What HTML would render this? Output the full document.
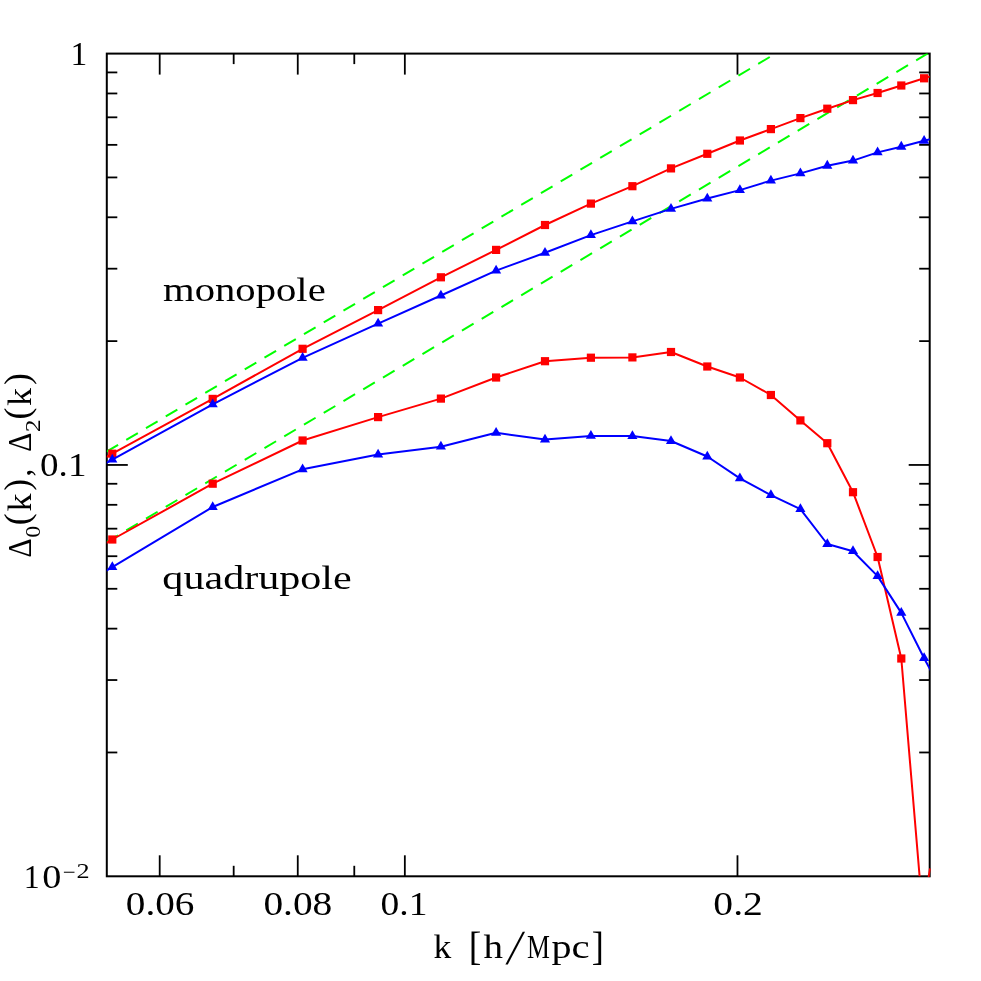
<!DOCTYPE html>
<html lang="en">
<head>
<meta charset="utf-8">
<title>Monopole and quadrupole power</title>
<style>
html,body{margin:0;padding:0;background:#ffffff;}
body{width:981px;height:981px;overflow:hidden;font-family:"Liberation Serif",serif;}
svg{display:block;will-change:transform;}
</style>
</head>
<body>
<svg width="981" height="981" viewBox="0 0 981 981">
<rect x="0" y="0" width="981" height="981" fill="#ffffff"/>
<defs><clipPath id="plotclip"><rect x="106.8" y="53.6" width="822.9" height="822.7"/></clipPath></defs>
<g stroke="#000000" stroke-width="2" fill="none" stroke-linecap="butt">
<rect x="106.8" y="53.6" width="822.9" height="822.7"/>
</g>
<g stroke="#000000" stroke-width="1.8" fill="none">
<line x1="159.7" y1="876.3" x2="159.7" y2="855.3"/>
<line x1="159.7" y1="53.6" x2="159.7" y2="74.6"/>
<line x1="233.68" y1="876.3" x2="233.68" y2="865.8"/>
<line x1="233.68" y1="53.6" x2="233.68" y2="64.1"/>
<line x1="297.76" y1="876.3" x2="297.76" y2="855.3"/>
<line x1="297.76" y1="53.6" x2="297.76" y2="74.6"/>
<line x1="354.28" y1="876.3" x2="354.28" y2="865.8"/>
<line x1="354.28" y1="53.6" x2="354.28" y2="64.1"/>
<line x1="404.84" y1="876.3" x2="404.84" y2="855.3"/>
<line x1="404.84" y1="53.6" x2="404.84" y2="74.6"/>
<line x1="737.48" y1="876.3" x2="737.48" y2="855.3"/>
<line x1="737.48" y1="53.6" x2="737.48" y2="74.6"/>
<line x1="106.8" y1="72.42" x2="117.3" y2="72.42"/>
<line x1="929.7" y1="72.42" x2="919.2" y2="72.42"/>
<line x1="106.8" y1="93.46" x2="117.3" y2="93.46"/>
<line x1="929.7" y1="93.46" x2="919.2" y2="93.46"/>
<line x1="106.8" y1="117.32" x2="117.3" y2="117.32"/>
<line x1="929.7" y1="117.32" x2="919.2" y2="117.32"/>
<line x1="106.8" y1="144.86" x2="117.3" y2="144.86"/>
<line x1="929.7" y1="144.86" x2="919.2" y2="144.86"/>
<line x1="106.8" y1="177.43" x2="117.3" y2="177.43"/>
<line x1="929.7" y1="177.43" x2="919.2" y2="177.43"/>
<line x1="106.8" y1="217.29" x2="117.3" y2="217.29"/>
<line x1="929.7" y1="217.29" x2="919.2" y2="217.29"/>
<line x1="106.8" y1="268.69" x2="117.3" y2="268.69"/>
<line x1="929.7" y1="268.69" x2="919.2" y2="268.69"/>
<line x1="106.8" y1="341.12" x2="117.3" y2="341.12"/>
<line x1="929.7" y1="341.12" x2="919.2" y2="341.12"/>
<line x1="106.8" y1="464.95" x2="127.8" y2="464.95"/>
<line x1="929.7" y1="464.95" x2="908.7" y2="464.95"/>
<line x1="106.8" y1="483.77" x2="117.3" y2="483.77"/>
<line x1="929.7" y1="483.77" x2="919.2" y2="483.77"/>
<line x1="106.8" y1="504.81" x2="117.3" y2="504.81"/>
<line x1="929.7" y1="504.81" x2="919.2" y2="504.81"/>
<line x1="106.8" y1="528.67" x2="117.3" y2="528.67"/>
<line x1="929.7" y1="528.67" x2="919.2" y2="528.67"/>
<line x1="106.8" y1="556.21" x2="117.3" y2="556.21"/>
<line x1="929.7" y1="556.21" x2="919.2" y2="556.21"/>
<line x1="106.8" y1="588.78" x2="117.3" y2="588.78"/>
<line x1="929.7" y1="588.78" x2="919.2" y2="588.78"/>
<line x1="106.8" y1="628.64" x2="117.3" y2="628.64"/>
<line x1="929.7" y1="628.64" x2="919.2" y2="628.64"/>
<line x1="106.8" y1="680.04" x2="117.3" y2="680.04"/>
<line x1="929.7" y1="680.04" x2="919.2" y2="680.04"/>
<line x1="106.8" y1="752.47" x2="117.3" y2="752.47"/>
<line x1="929.7" y1="752.47" x2="919.2" y2="752.47"/>
</g>
<g clip-path="url(#plotclip)">
<line x1="106.5" y1="451.72" x2="800" y2="39.02" stroke="#00ff00" stroke-width="2" stroke-dasharray="13.5 9.48"/>
<line x1="106.5" y1="542.16" x2="940" y2="46.14" stroke="#00ff00" stroke-width="2" stroke-dasharray="13.5 9.48"/>
<polyline fill="none" stroke="#ff0000" stroke-width="2" stroke-linejoin="round" points="103.8,458.34 112.3,453.7 212.7,398.9 302.6,348.8 378.1,310.1 440.9,277.3 496.1,249.9 545,225 590.9,203.6 632.4,186.2 671,168.4 707.3,153.8 739.9,140.5 770.9,129.1 800.4,118.1 827.3,108.7 853,100.1 877.6,93 901.3,85.5 924.1,78.3 932.7,75.58"/>
<rect x="108.2" y="449.6" width="8.2" height="8.2" fill="#ff0000"/>
<rect x="208.6" y="394.8" width="8.2" height="8.2" fill="#ff0000"/>
<rect x="298.5" y="344.7" width="8.2" height="8.2" fill="#ff0000"/>
<rect x="374" y="306" width="8.2" height="8.2" fill="#ff0000"/>
<rect x="436.8" y="273.2" width="8.2" height="8.2" fill="#ff0000"/>
<rect x="492" y="245.8" width="8.2" height="8.2" fill="#ff0000"/>
<rect x="540.9" y="220.9" width="8.2" height="8.2" fill="#ff0000"/>
<rect x="586.8" y="199.5" width="8.2" height="8.2" fill="#ff0000"/>
<rect x="628.3" y="182.1" width="8.2" height="8.2" fill="#ff0000"/>
<rect x="666.9" y="164.3" width="8.2" height="8.2" fill="#ff0000"/>
<rect x="703.2" y="149.7" width="8.2" height="8.2" fill="#ff0000"/>
<rect x="735.8" y="136.4" width="8.2" height="8.2" fill="#ff0000"/>
<rect x="766.8" y="125" width="8.2" height="8.2" fill="#ff0000"/>
<rect x="796.3" y="114" width="8.2" height="8.2" fill="#ff0000"/>
<rect x="823.2" y="104.6" width="8.2" height="8.2" fill="#ff0000"/>
<rect x="848.9" y="96" width="8.2" height="8.2" fill="#ff0000"/>
<rect x="873.5" y="88.9" width="8.2" height="8.2" fill="#ff0000"/>
<rect x="897.2" y="81.4" width="8.2" height="8.2" fill="#ff0000"/>
<rect x="920" y="74.2" width="8.2" height="8.2" fill="#ff0000"/>
<polyline fill="none" stroke="#0000ff" stroke-width="2" stroke-linejoin="round" points="103.8,464.28 112.3,459.6 212.7,404.3 302.6,357.8 378.1,323.6 440.9,295.5 496.1,270.6 545,252.8 590.9,235.1 632.4,221.4 671,208.9 707.3,198.5 739.9,190.1 770.9,180.6 800.4,173.4 827.3,165.7 853,160.6 877.6,152.4 901.3,146.7 924.1,140.8 932.7,138.57"/>
<polygon points="112.3,453.75 107.23,462.53 117.37,462.53" fill="#0000ff"/>
<polygon points="212.7,398.45 207.63,407.23 217.77,407.23" fill="#0000ff"/>
<polygon points="302.6,351.95 297.53,360.73 307.67,360.73" fill="#0000ff"/>
<polygon points="378.1,317.75 373.03,326.53 383.17,326.53" fill="#0000ff"/>
<polygon points="440.9,289.65 435.83,298.43 445.97,298.43" fill="#0000ff"/>
<polygon points="496.1,264.75 491.03,273.53 501.17,273.53" fill="#0000ff"/>
<polygon points="545,246.95 539.93,255.73 550.07,255.73" fill="#0000ff"/>
<polygon points="590.9,229.25 585.83,238.03 595.97,238.03" fill="#0000ff"/>
<polygon points="632.4,215.55 627.33,224.33 637.47,224.33" fill="#0000ff"/>
<polygon points="671,203.05 665.93,211.83 676.07,211.83" fill="#0000ff"/>
<polygon points="707.3,192.65 702.23,201.43 712.37,201.43" fill="#0000ff"/>
<polygon points="739.9,184.25 734.83,193.03 744.97,193.03" fill="#0000ff"/>
<polygon points="770.9,174.75 765.83,183.53 775.97,183.53" fill="#0000ff"/>
<polygon points="800.4,167.55 795.33,176.33 805.47,176.33" fill="#0000ff"/>
<polygon points="827.3,159.85 822.23,168.63 832.37,168.63" fill="#0000ff"/>
<polygon points="853,154.75 847.93,163.53 858.07,163.53" fill="#0000ff"/>
<polygon points="877.6,146.55 872.53,155.33 882.67,155.33" fill="#0000ff"/>
<polygon points="901.3,140.85 896.23,149.63 906.37,149.63" fill="#0000ff"/>
<polygon points="924.1,134.95 919.03,143.73 929.17,143.73" fill="#0000ff"/>
<polyline fill="none" stroke="#ff0000" stroke-width="2" stroke-linejoin="round" points="103.8,544.22 112.3,539.5 212.7,483.7 302.6,440.5 378.1,417.1 440.9,398.6 496.1,377.5 545,361.2 590.9,357.7 632.4,357.4 671,352 707.3,366.5 739.9,377.5 770.9,395 800.4,420.4 827.3,443.2 853,492.2 877.6,557 901.3,658.5 924.1,930"/>
<rect x="108.2" y="535.4" width="8.2" height="8.2" fill="#ff0000"/>
<rect x="208.6" y="479.6" width="8.2" height="8.2" fill="#ff0000"/>
<rect x="298.5" y="436.4" width="8.2" height="8.2" fill="#ff0000"/>
<rect x="374" y="413" width="8.2" height="8.2" fill="#ff0000"/>
<rect x="436.8" y="394.5" width="8.2" height="8.2" fill="#ff0000"/>
<rect x="492" y="373.4" width="8.2" height="8.2" fill="#ff0000"/>
<rect x="540.9" y="357.1" width="8.2" height="8.2" fill="#ff0000"/>
<rect x="586.8" y="353.6" width="8.2" height="8.2" fill="#ff0000"/>
<rect x="628.3" y="353.3" width="8.2" height="8.2" fill="#ff0000"/>
<rect x="666.9" y="347.9" width="8.2" height="8.2" fill="#ff0000"/>
<rect x="703.2" y="362.4" width="8.2" height="8.2" fill="#ff0000"/>
<rect x="735.8" y="373.4" width="8.2" height="8.2" fill="#ff0000"/>
<rect x="766.8" y="390.9" width="8.2" height="8.2" fill="#ff0000"/>
<rect x="796.3" y="416.3" width="8.2" height="8.2" fill="#ff0000"/>
<rect x="823.2" y="439.1" width="8.2" height="8.2" fill="#ff0000"/>
<rect x="848.9" y="488.1" width="8.2" height="8.2" fill="#ff0000"/>
<rect x="873.5" y="552.9" width="8.2" height="8.2" fill="#ff0000"/>
<rect x="897.2" y="654.4" width="8.2" height="8.2" fill="#ff0000"/>
<polyline fill="none" stroke="#0000ff" stroke-width="2" stroke-linejoin="round" points="103.8,572.19 112.3,567.1 212.7,507 302.6,469.3 378.1,454.5 440.9,446.7 496.1,432.8 545,439.5 590.9,435.9 632.4,436 671,441 707.3,456.5 739.9,478.3 770.9,495.2 800.4,509.1 827.3,544 853,551.2 877.6,576.1 901.3,612.9 924.1,658.2 932.7,674.2"/>
<polygon points="112.3,561.25 107.23,570.02 117.37,570.02" fill="#0000ff"/>
<polygon points="212.7,501.15 207.63,509.93 217.77,509.93" fill="#0000ff"/>
<polygon points="302.6,463.45 297.53,472.23 307.67,472.23" fill="#0000ff"/>
<polygon points="378.1,448.65 373.03,457.43 383.17,457.43" fill="#0000ff"/>
<polygon points="440.9,440.85 435.83,449.62 445.97,449.62" fill="#0000ff"/>
<polygon points="496.1,426.95 491.03,435.73 501.17,435.73" fill="#0000ff"/>
<polygon points="545,433.65 539.93,442.43 550.07,442.43" fill="#0000ff"/>
<polygon points="590.9,430.05 585.83,438.83 595.97,438.83" fill="#0000ff"/>
<polygon points="632.4,430.15 627.33,438.93 637.47,438.93" fill="#0000ff"/>
<polygon points="671,435.15 665.93,443.93 676.07,443.93" fill="#0000ff"/>
<polygon points="707.3,450.65 702.23,459.43 712.37,459.43" fill="#0000ff"/>
<polygon points="739.9,472.45 734.83,481.23 744.97,481.23" fill="#0000ff"/>
<polygon points="770.9,489.35 765.83,498.12 775.97,498.12" fill="#0000ff"/>
<polygon points="800.4,503.25 795.33,512.02 805.47,512.02" fill="#0000ff"/>
<polygon points="827.3,538.15 822.23,546.92 832.37,546.92" fill="#0000ff"/>
<polygon points="853,545.35 847.93,554.12 858.07,554.12" fill="#0000ff"/>
<polygon points="877.6,570.25 872.53,579.02 882.67,579.02" fill="#0000ff"/>
<polygon points="901.3,607.05 896.23,615.82 906.37,615.82" fill="#0000ff"/>
<polygon points="924.1,652.35 919.03,661.12 929.17,661.12" fill="#0000ff"/>
</g>
<line x1="928.6" y1="877" x2="929.9" y2="868.5" stroke="#ff0000" stroke-width="1.8"/>
<g font-family="'Liberation Serif', serif" font-size="33" fill="#000000">
<text y="300.8" font-size="33" x="163.05" textLength="162.66" lengthAdjust="spacingAndGlyphs">monopole</text>
<text y="588.6" font-size="33" x="162.38" textLength="189.38" lengthAdjust="spacingAndGlyphs">quadrupole</text>
<text y="915.2" font-size="33" x="125.81" textLength="68.56" lengthAdjust="spacingAndGlyphs">0.06</text>
<text y="915.2" font-size="33" x="263.4" textLength="68.9" lengthAdjust="spacingAndGlyphs">0.08</text>
<text y="915.2" font-size="33" x="380.57" textLength="46.88" lengthAdjust="spacingAndGlyphs">0.1</text>
<text y="915.2" font-size="33" x="713.39" textLength="49.49" lengthAdjust="spacingAndGlyphs">0.2</text>
<text y="65" font-size="34" x="70.45" textLength="16.76" lengthAdjust="spacingAndGlyphs">1</text>
<text y="475.6" font-size="33" x="40.09" textLength="46.34" lengthAdjust="spacingAndGlyphs">0.1</text>
<text><tspan y="887.8" font-size="33" x="23.8" textLength="15.91" lengthAdjust="spacingAndGlyphs">1</tspan><tspan y="887.8" font-size="33" x="42.24" textLength="19.11" lengthAdjust="spacingAndGlyphs">0</tspan><tspan y="879.1" font-size="21" x="62.87" textLength="12.85" lengthAdjust="spacingAndGlyphs">−</tspan><tspan y="878.4" font-size="21" x="76.45" textLength="13.1" lengthAdjust="spacingAndGlyphs">2</tspan></text>
<g>
<text><tspan y="958" font-size="33" x="433.42" textLength="17.78" lengthAdjust="spacingAndGlyphs">k</tspan> <tspan y="959.9" font-size="40.1" x="468.8" textLength="12.56" lengthAdjust="spacingAndGlyphs">[</tspan><tspan y="958" font-size="33" x="483.62" textLength="19.49" lengthAdjust="spacingAndGlyphs">h</tspan></text>
<text transform="translate(505.4,964.3) skewX(-10.5)" font-size="48.9" x="0" y="0">/</text>
<text><tspan y="958" font-size="33" x="526.96" textLength="22.9" lengthAdjust="spacingAndGlyphs">M</tspan><tspan y="958" font-size="33" x="551.56" textLength="20.01" lengthAdjust="spacingAndGlyphs">p</tspan><tspan y="958" font-size="33" x="571.55" textLength="18.11" lengthAdjust="spacingAndGlyphs">c</tspan><tspan y="959.9" font-size="40.1" x="591.69" textLength="12.11" lengthAdjust="spacingAndGlyphs">]</tspan></text>
</g>
<g transform="translate(30.6,556.3) rotate(-90)">
<text><tspan y="0" font-size="33" x="-1.13" textLength="19.04" lengthAdjust="spacingAndGlyphs">Δ</tspan><tspan y="9.4" font-size="21" x="18.48" textLength="12.03" lengthAdjust="spacingAndGlyphs">0</tspan><tspan y="-1.2" font-size="36.5" x="31.03" textLength="11.93" lengthAdjust="spacingAndGlyphs">(</tspan><tspan y="0" font-size="33" x="44.92" textLength="17.98" lengthAdjust="spacingAndGlyphs">k</tspan><tspan y="-1.2" font-size="36.5" x="65.66" textLength="11.8" lengthAdjust="spacingAndGlyphs">)</tspan><tspan y="0" font-size="33" x="79.82" textLength="7.72" lengthAdjust="spacingAndGlyphs">,</tspan> <tspan y="0" font-size="33" x="104.57" textLength="19.04" lengthAdjust="spacingAndGlyphs">Δ</tspan><tspan y="9.4" font-size="21" x="123.97" textLength="12.85" lengthAdjust="spacingAndGlyphs">2</tspan><tspan y="-1.2" font-size="36.5" x="136.73" textLength="11.93" lengthAdjust="spacingAndGlyphs">(</tspan><tspan y="0" font-size="33" x="150.31" textLength="18.09" lengthAdjust="spacingAndGlyphs">k</tspan><tspan y="-1.2" font-size="36.5" x="171.25" textLength="11.93" lengthAdjust="spacingAndGlyphs">)</tspan></text>
</g>
</g>
</svg>
</body>
</html>
